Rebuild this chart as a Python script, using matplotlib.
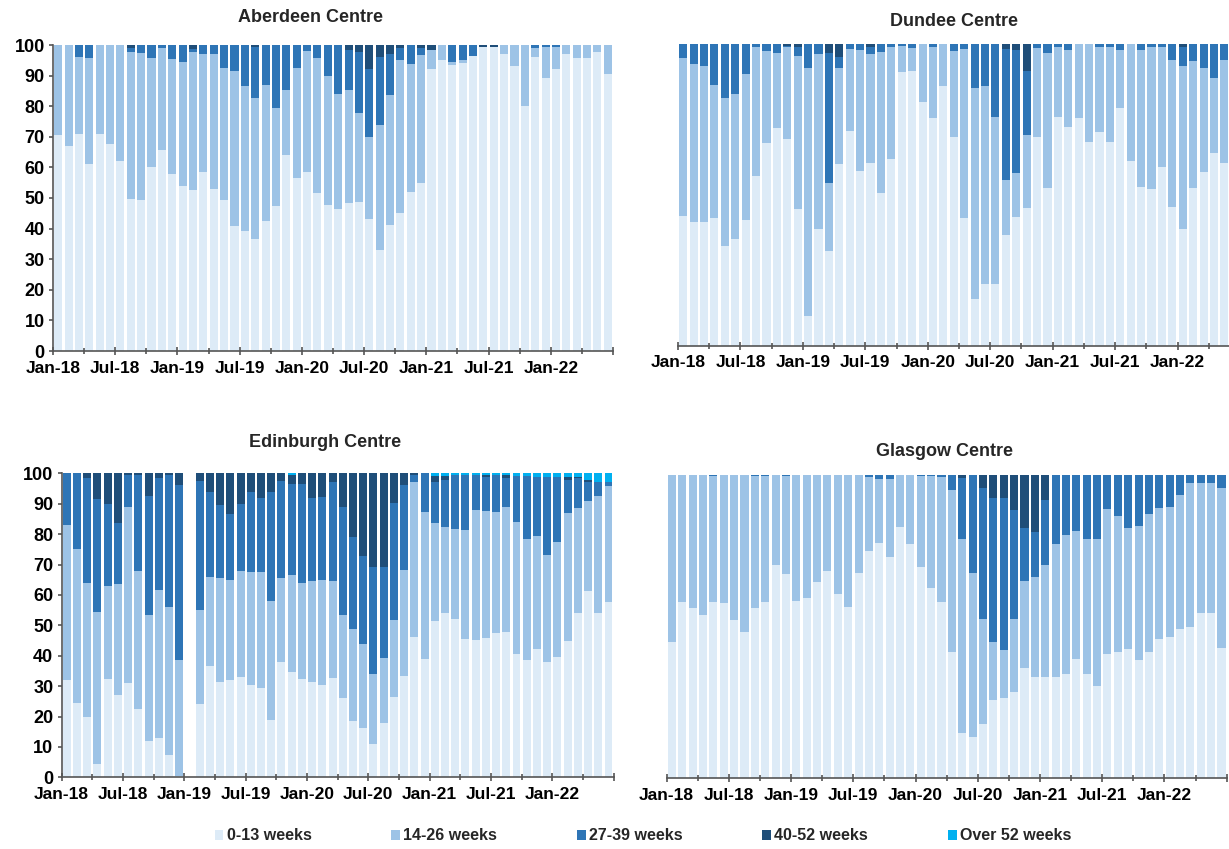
import numpy as np
import matplotlib
matplotlib.use("Agg")
import matplotlib.pyplot as plt
from matplotlib.patches import Patch
from matplotlib.ticker import FixedLocator

plt.rcParams['font.family'] = ['Liberation Sans', 'DejaVu Sans']
plt.rcParams['font.weight'] = 'bold'
plt.rcParams['text.color'] = '#262626'

# series names and colours
bands = ['0-13 weeks', '14-26 weeks', '27-39 weeks', '40-52 weeks', 'Over 52 weeks']
colours = ['#DDEBF7', '#9DC3E6', '#2E75B6', '#1F4E79', '#00B0F0']

# monthly bars Jan-18 .. Jun-22 (54 months)
n_months = 54
tick_labels = ['Jan-18', 'Jul-18', 'Jan-19', 'Jul-19', 'Jan-20',
               'Jul-20', 'Jan-21', 'Jul-21', 'Jan-22']

# ---- Aberdeen (% of cases by waiting band) ----
aber_0_13 = [70.5, 67, 70.8, 61, 71, 67.5, 62, 49.7, 49.2, 60, 65.8, 57.7, 53.8, 52.7, 58.5, 53, 49.4, 41,
             39.3, 36.6, 42.6, 47.3, 64, 56.5, 58.5, 51.6, 47.6, 46.4, 48.3, 48.6, 43.3, 33.1, 41.1, 45,
             52, 55, 92, 95.2, 93.5, 94, 96.4, 99.2, 99.3, 97.2, 93.3, 80.2, 96.1, 89.1, 92, 97.2, 95.8,
             95.8, 97.8, 90.6]
aber_14_26 = [29.5, 33, 25.4, 34.8, 29, 32.5, 38, 47.9, 48.1, 35.8, 33.3, 37.6, 40.7, 44.9, 38.5, 44, 43.2,
              50.5, 47.3, 46.2, 44.3, 32.2, 21.2, 36.1, 39.5, 44, 42.4, 37.5, 37, 29.2, 26.5, 40.8, 42.6,
              50, 41.9, 41.7, 6.3, 4.8, 1, 1, 0, 0, 0, 2.8, 6.7, 19.8, 2.8, 10.3, 7.4, 2.8, 4.2, 4.2,
              2.2, 9.4]
aber_27_39 = [0, 0, 3.8, 4.2, 0, 0, 0, 1.5, 2.7, 4.2, 0.9, 4.7, 5.5, 1.1, 3, 3, 7.4, 8.5, 13.4, 16.7, 13.1,
              20.5, 14.8, 7.4, 2, 4.4, 10, 16.1, 13.2, 20, 22.4, 22.2, 13.5, 4, 6.1, 2.2, 0, 0, 5.5, 5,
              3.6, 0, 0, 0, 0, 0, 1.1, 0.6, 0.6, 0, 0, 0, 0, 0]
aber_40_52 = [0, 0, 0, 0, 0, 0, 0, 0.9, 0, 0, 0, 0, 0, 1.3, 0, 0, 0, 0, 0, 0.5, 0, 0, 0, 0, 0, 0, 0, 0,
              1.5, 2.2, 7.8, 3.9, 2.8, 1, 0, 1.1, 1.7, 0, 0, 0, 0, 0.8, 0.7, 0, 0, 0, 0, 0, 0, 0, 0,
              0, 0, 0]

# ---- Dundee ----
dund_0_13 = [43, 41.2, 41.2, 42.3, 33.1, 35.3, 41.7, 56.4, 67.1, 72.3, 68.5, 45.4, 9.8, 38.6, 31.5, 60.2,
             71.2, 58.1, 60.5, 50.6, 61.9, 90.7, 91.3, 80.8, 75.4, 86.2, 69.1, 42.5, 15.4, 20.5, 20.5,
             36.7, 42.8, 45.6, 69.4, 52.2, 76, 72.7, 75.4, 67.7, 70.8, 67.7, 79, 61.3, 52.8, 51.9, 59.4,
             46, 38.6, 52.2, 57.7, 63.8, 60.5, 58]
dund_14_26 = [52.4, 52.2, 51.7, 44.2, 49, 48.1, 48.3, 42.8, 30.7, 24.7, 30.7, 50.7, 82.5, 58.1, 22.4, 32.1,
              27.1, 40, 36.2, 46.7, 37.3, 8.9, 7.4, 19.2, 23.8, 13.8, 28.7, 56, 70.2, 65.8, 55.5, 18.3,
              14.4, 24.3, 29.3, 44.8, 23.2, 25.4, 24.6, 32.3, 28.4, 31.5, 19.1, 38.7, 45.3, 47.3, 39.8,
              48.8, 54.3, 42.3, 34.3, 25.1, 34.3, 35]
dund_27_39 = [4.6, 6.6, 7.1, 13.5, 17.9, 16.6, 10, 0.8, 2.2, 3, 0.4, 2.9, 7.7, 3.3, 43.1, 3.6, 1.7, 1.9, 2.3,
              2.7, 0.8, 0.4, 1.3, 0, 0.8, 0, 2.2, 1.5, 14.4, 13.7, 24, 43.3, 40.9, 21.4, 1.3, 3, 0.8, 1.9,
              0, 0, 0.8, 0.8, 1.9, 0, 1.9, 0.8, 0.8, 5.2, 6.3, 5.5, 8, 11.1, 5.2, 7]
dund_40_52 = [0, 0, 0, 0, 0, 0, 0, 0, 0, 0, 0.4, 1, 0, 0, 3, 4.1, 0, 0, 1, 0, 0, 0, 0, 0, 0, 0, 0, 0, 0,
              0, 0, 1.7, 1.9, 8.7, 0, 0, 0, 0, 0, 0, 0, 0, 0, 0, 0, 0, 0, 0, 0.8, 0, 0, 0, 0, 0]

# ---- Edinburgh (Jan-19 has no data) ----
edin_0_13 = [32, 24.5, 20, 4.5, 32.5, 27, 31, 22.5, 12, 13, 7.5, 0.5, 0, 24, 36.5, 31.5, 32, 33, 30.5, 29.5,
             19, 38, 34.5, 32.5, 31.5, 30.2, 32.8, 26.2, 18.5, 16.1, 11, 18, 26.5, 33.4, 46.3, 38.9, 51.4,
             53.9, 52, 45.5, 45.2, 45.7, 47.4, 47.9, 40.4, 38.6, 42.2, 37.8, 39.7, 44.8, 54.2, 61.4, 54.2,
             57.6]
edin_14_26 = [51, 50.5, 44, 50, 30.5, 36.5, 58, 45.5, 41.5, 48.5, 48.5, 38, 0, 31, 29.5, 34, 33, 35, 37, 38,
              39, 27.5, 32, 31.5, 33, 34.7, 31.9, 27.2, 30.2, 27.8, 23, 21.1, 25.3, 34.8, 51, 48.5, 32.4,
              28.3, 29.7, 35.9, 42.7, 42, 40, 40.9, 43.5, 39.8, 37.2, 35.3, 37.8, 42.3, 34.3, 29.5, 38.3,
              38.2]
edin_27_39 = [17, 25, 34.5, 37, 27, 20, 10.5, 31.5, 39, 37, 43.5, 57.5, 0, 42.5, 28, 24, 21.5, 22, 26.5, 24.5,
              36, 32, 30, 32.5, 27.5, 27.4, 32.6, 35.6, 30.3, 28.9, 35.3, 30.2, 38.3, 28, 2.2, 12.6, 13.4,
              15.6, 17.8, 18.1, 11.6, 11.2, 11.9, 9.8, 15.3, 20.8, 19.5, 25.8, 21.4, 10.7, 9.9, 6.4, 4.5,
              1.5]
edin_40_52 = [0, 0, 1.5, 8.5, 10, 16.5, 0.5, 0.5, 7.5, 1.5, 0.5, 4, 0, 2.5, 6, 10.5, 13.5, 10, 6, 8, 6, 2.5,
              3, 3.5, 8, 7.7, 2.7, 11, 21, 27.2, 30.7, 30.7, 9.9, 3.8, 0.5, 0, 1.9, 1.3, 0, 0, 0, 0.5, 0,
              0.7, 0, 0, 0, 0, 0, 0.9, 0.3, 0.5, 0.3, 0]
edin_over_52 = [0, 0, 0, 0, 0, 0, 0, 0, 0, 0, 0, 0, 0, 0, 0, 0, 0, 0, 0, 0, 0, 0, 0.5, 0, 0, 0, 0, 0, 0, 0,
                0, 0, 0, 0, 0, 0, 0.9, 0.9, 0.5, 0.5, 0.5, 0.6, 0.7, 0.7, 0.8, 0.8, 1.1, 1.1, 1.1, 1.3,
                1.3, 2.2, 2.7, 2.7]

# ---- Glasgow ----
glas_0_13 = [45.1, 58.2, 56, 53.8, 58.2, 57.7, 52.2, 48.1, 56, 58.2, 70.3, 67.3, 58.5, 59.6, 64.8, 68.5,
             60.8, 56.6, 67.6, 74.9, 77.5, 73.1, 83, 77.3, 69.6, 62.6, 58.2, 41.8, 15.1, 13.7, 17.9, 25.8,
             26.4, 28.6, 36.5, 33.3, 33.3, 33.3, 34.3, 39.3, 34.3, 30.5, 40.9, 41.5, 42.5, 39, 41.5, 45.8,
             46.7, 49.2, 49.8, 54.6, 54.6, 42.9]
glas_14_26 = [54.9, 41.8, 44, 46.2, 41.4, 42.3, 47.8, 51.9, 43.6, 41.4, 29.7, 32.3, 41.5, 40.4, 35.2, 31.5,
              39.2, 43.4, 32.4, 24.3, 21.2, 25.6, 17, 22.7, 30, 37, 41.3, 53.3, 63.7, 54.1, 34.6, 19.3,
              15.9, 23.8, 28.7, 33.2, 37, 44, 45.9, 42.2, 44.5, 48.3, 47.8, 45.1, 39.9, 44.2, 45.5, 43.2,
              42.9, 44.2, 47.7, 42.9, 42.9, 52.7]
glas_27_39 = [0, 0, 0, 0, 0.4, 0, 0, 0, 0.4, 0.4, 0, 0.4, 0, 0, 0, 0, 0, 0, 0, 0.8, 1.3, 1.3, 0, 0, 0.4, 0.4,
              0.5, 4.9, 20.1, 32.2, 43.1, 47.2, 50, 36.1, 17.4, 14.8, 21.5, 22.7, 19.8, 18.5, 21.2, 21.2,
              11.3, 13.4, 17.6, 16.8, 13, 11, 10.4, 6.6, 2.5, 2.5, 2.5, 4.4]
glas_40_52 = [0, 0, 0, 0, 0, 0, 0, 0, 0, 0, 0, 0, 0, 0, 0, 0, 0, 0, 0, 0, 0, 0, 0, 0, 0, 0, 0, 0, 1.1, 0,
              4.4, 7.7, 7.7, 11.5, 17.4, 18.7, 8.2, 0, 0, 0, 0, 0, 0, 0, 0, 0, 0, 0, 0, 0, 0, 0, 0, 0]

W, H = 1229, 849


def px_rect(left, right, top, bottom):
    """axes rectangle from pixel edges of the reference"""
    return [left / W, 1 - bottom / H, (right - left) / W, (bottom - top) / H]


def draw(ax, series, show_y):
    x = np.arange(n_months)
    base = np.zeros(n_months)
    for vals, col in zip(series, colours):
        vals = np.array(vals, dtype=float)
        ax.bar(x, vals, bottom=base, width=0.78, color=col, linewidth=0, zorder=2)
        base += vals
    ax.set_xlim(-0.5, n_months - 0.5)
    ax.set_ylim(0, 100)
    for s in ['top', 'right']:
        ax.spines[s].set_visible(False)
    ax.spines['bottom'].set_color('#555555')
    ax.spines['bottom'].set_linewidth(1.2)
    ax.spines['bottom'].set_zorder(3)
    ax.xaxis.set_major_locator(FixedLocator(np.arange(-0.5, n_months, 6)))
    ax.xaxis.set_minor_locator(FixedLocator(np.arange(2.5, n_months, 6)))
    ax.set_xticklabels(tick_labels + [''])
    ax.tick_params(axis='x', which='major', direction='inout', length=6, width=1.2,
                   color='#555555', labelsize=12.5, pad=4)
    ax.tick_params(axis='x', which='minor', direction='inout', length=4, width=1.2,
                   color='#555555')
    if show_y:
        ax.spines['left'].set_color('#555555')
        ax.spines['left'].set_linewidth(1.2)
        ax.set_yticks(np.arange(0, 101, 10))
        ax.tick_params(axis='y', direction='out', length=3, width=1.2, color='#555555',
                       labelsize=13, pad=3)
    else:
        ax.spines['left'].set_visible(False)
        ax.set_yticks([])
    for lab in ax.get_xticklabels() + ax.get_yticklabels():
        lab.set_fontweight('bold')


fig = plt.figure(figsize=(W / 100, H / 100), dpi=100)

ax1 = fig.add_axes(px_rect(53, 613, 45, 351))
draw(ax1, [aber_0_13, aber_14_26, aber_27_39, aber_40_52], True)

ax2 = fig.add_axes(px_rect(678, 1240, 44.3, 345.7))
draw(ax2, [dund_0_13, dund_14_26, dund_27_39, dund_40_52], False)

ax3 = fig.add_axes(px_rect(61.7, 613.6, 473.3, 777.3))
draw(ax3, [edin_0_13, edin_14_26, edin_27_39, edin_40_52, edin_over_52], True)

ax4 = fig.add_axes(px_rect(666.7, 1226.7, 475, 778.3))
draw(ax4, [glas_0_13, glas_14_26, glas_27_39, glas_40_52], False)

titles = [('Aberdeen Centre', 310, 17), ('Dundee Centre', 954, 22),
          ('Edinburgh Centre', 325, 442), ('Glasgow Centre', 945, 452)]
for txt, tx, ty in titles:
    fig.text(tx / W, 1 - ty / H, txt, ha='center', va='center', fontsize=13, fontweight='bold')

handles = [Patch(facecolor=c, edgecolor='none', label=b) for b, c in zip(bands, colours)]
fig.legend(handles=handles, loc='center', bbox_to_anchor=(643 / W, 1 - 836 / H), ncol=5,
           frameon=False, handlelength=0.55, handleheight=0.55,
           handletextpad=0.2, columnspacing=5.0, prop={'weight': 'bold', 'size': 11.5})

fig.savefig('out.png', dpi=100)
